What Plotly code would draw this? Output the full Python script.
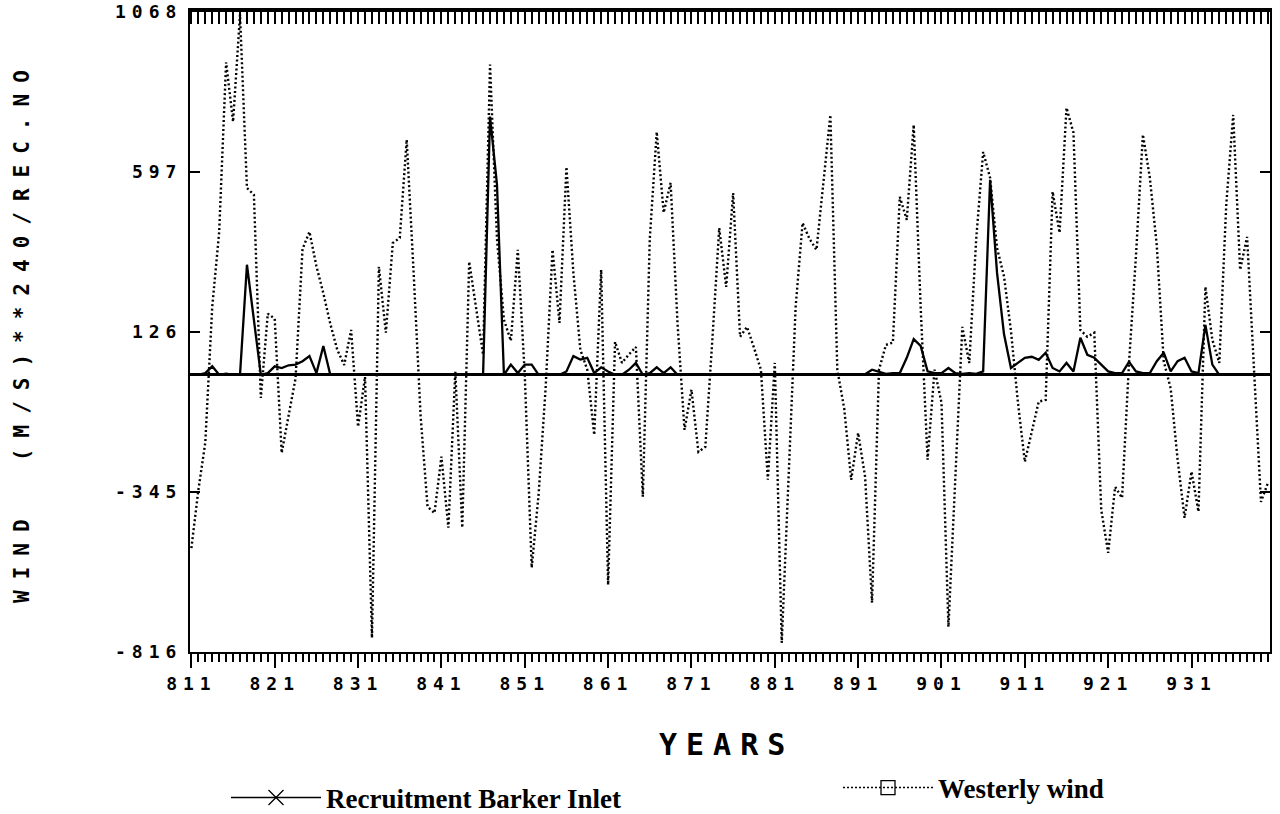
import plotly.graph_objects as go

# Monthly series, Jan 1981 (811) .. Dec 1993
wind = [
    -510, -340, -200, 200, 420, 920, 745, 1060, 550, 530, -68, 180,
    165, -230, -120, -10, 370, 421, 320, 240, 150, 74, 29, 132,
    -153, -6, -774, 318, 124, 388, 403, 692, 300, -120, -388, -407,
    -241, -450, 10, -450, 333, 200, 59, 913, 400, 162, 100, 368,
    0, -568, -350, -40, 368, 153, 612, 300, 74, 15, -177, 309,
    -618, 97, 35, 60, 82, -359, 400, 715, 477, 565, 150, -162,
    -44, -227, -212, 100, 432, 259, 535, 112, 141, 80, 15, -309,
    35, -789, -300, 200, 447, 400, 368, 560, 765, 15, -100, -309,
    -171, -300, -671, 15, 88, 95, 524, 456, 736, 200, -250, 15,
    -82, -742, -300, 141, 35, 400, 656, 580, 373, 290, 130, -80,
    -256, -170, -79, -74, 539, 418, 786, 713, 132, 112, 124, -397,
    -524, -330, -362, 35, 350, 707, 580, 380, 40, -40, -250, -421,
    -285, -403, 259, 103, 35, 500, 765, 309, 406, 15, -374, -318,
]

recruitment = [
    0, 0, 5, 25, 0, 3, 0, 0, 324, 160, 0, 5,
    25, 20, 28, 30, 40, 55, 5, 85, 0, 0, 0, 0,
    0, 0, 0, 0, 0, 0, 0, 0, 0, 0, 0, 0,
    0, 0, 0, 0, 0, 0, 0, 760, 560, 0, 30, 5,
    30, 30, 0, 0, 0, 0, 10, 55, 45, 50, 5, 22,
    10, 0, 0, 15, 35, 0, 5, 22, 5, 22, 0, 0,
    2, 2, 2, 2, 2, 2, 2, 2, 2, 2, 2, 2,
    2, 2, 2, 2, 2, 2, 2, 2, 2, 2, 2, 2,
    2, 2, 15, 10, 3, 5, 5, 50, 105, 85, 10, 5,
    5, 20, 5, 3, 5, 3, 10, 574, 300, 120, 20, 35,
    50, 53, 44, 65, 20, 10, 35, 10, 109, 59, 50, 30,
    10, 5, 5, 38, 10, 5, 5, 40, 65, 10, 40, 50,
    10, 5, 147, 30, 0, 0, 0, 0, 0, 0, 0, 0,
]

x_tick_labels = ["811", "821", "831", "841", "851", "861", "871",
                 "881", "891", "901", "911", "921", "931"]
x_tick_months = [0, 12, 24, 36, 48, 60, 72, 84, 96, 108, 120, 132, 144]
y_tick_values = [-816, -345, 126, 597, 1068]

months = list(range(len(wind)))

W, H = 1280, 814
L, R, T, B = 190, 10, 12, 162
PW, PH = W - L - R, H - T - B


def px_x(px):
    return (px - L) / PW


def px_y(py):
    return (H - B - py) / PH


def spaced(text, ls):
    return f'<span style="letter-spacing:{ls}px">{text}</span>'


MONO = "DejaVu Sans Mono"
XR = [-0.2, 155.3]

fig = go.Figure()
fig.add_trace(go.Scatter(
    x=months, y=wind, mode="lines", name="Westerly wind",
    line=dict(color="black", width=2.4, dash="2px,2.5px"),
    showlegend=False, hoverinfo="skip"))
fig.add_trace(go.Scatter(
    x=months, y=recruitment, mode="lines", name="Recruitment Barker Inlet",
    line=dict(color="black", width=2.3),
    showlegend=False, hoverinfo="skip"))

# legend entries
fig.add_trace(go.Scatter(
    x=[None], y=[None], xaxis="x2", mode="lines+markers",
    name="Recruitment Barker Inlet", legend="legend",
    line=dict(color="black", width=1.5),
    marker=dict(symbol="x-thin", size=15, color="black",
                line=dict(color="black", width=1.3))))
fig.add_trace(go.Scatter(
    x=[None], y=[None], xaxis="x2", mode="lines+markers",
    name="Westerly wind", legend="legend2",
    line=dict(color="black", width=1.6, dash="2px,2px"),
    marker=dict(symbol="square-open", size=14, color="black",
                line=dict(color="black", width=1.3))))

legend_font = dict(family="Liberation Serif", size=27, color="black", weight="bold")

fig.update_layout(
    width=W, height=H,
    margin=dict(l=L, r=R, t=T, b=B, autoexpand=False),
    paper_bgcolor="white", plot_bgcolor="white",
    hovermode=False,
    xaxis=dict(
        range=XR, tickmode="array", tickvals=x_tick_months,
        ticktext=[spaced(t, 6) for t in x_tick_labels],
        ticks="outside", ticklen=14, tickwidth=2, tickcolor="black",
        minor=dict(tickmode="linear", tick0=0, dtick=1, ticks="outside",
                   ticklen=8, tickwidth=1.5, tickcolor="black", showgrid=False),
        showline=True, linecolor="black", linewidth=2, mirror=False,
        showgrid=False, zeroline=False,
        tickfont=dict(family=MONO, size=18, color="black", weight="bold"),
    ),
    xaxis2=dict(
        overlaying="x", side="top", anchor="y", range=XR,
        tickmode="linear", tick0=0, dtick=1, ticks="inside", ticklen=12,
        tickwidth=2, tickcolor="black", showticklabels=False,
        showline=True, linewidth=4, linecolor="black",
        showgrid=False, zeroline=False,
    ),
    yaxis=dict(
        range=[-816, 1068], tickmode="array", tickvals=y_tick_values,
        ticktext=[spaced(str(v), 6) for v in y_tick_values],
        ticks="inside", ticklen=10, tickwidth=2, tickcolor="black",
        showline=True, linewidth=2, linecolor="black", mirror="ticks",
        showgrid=False, zeroline=True, zerolinecolor="black", zerolinewidth=2.5,
        tickfont=dict(family=MONO, size=18, color="black", weight="bold"),
        ticklabelstandoff=2,
    ),
    legend=dict(
        x=px_x(226), y=px_y(798), xanchor="left", yanchor="middle",
        font=legend_font, itemwidth=90, bgcolor="rgba(0,0,0,0)",
        borderwidth=0,
    ),
    legend2=dict(
        x=px_x(838), y=px_y(788), xanchor="left", yanchor="middle",
        font=legend_font, itemwidth=90, bgcolor="rgba(0,0,0,0)",
        borderwidth=0,
    ),
    annotations=[
        dict(text=spaced("YEARS", 9), x=px_x(726), y=px_y(744),
             xref="paper", yref="paper", showarrow=False,
             xanchor="center", yanchor="middle",
             font=dict(family=MONO, size=30, color="black", weight="bold")),
        dict(text=spaced("WIND\u00a0 (M/S)**240/REC.NO", 11),
             x=px_x(22), y=px_y(331), xref="paper", yref="paper",
             showarrow=False, textangle=-90,
             xanchor="center", yanchor="middle",
             font=dict(family=MONO, size=21, color="black", weight="bold")),
    ],
)

fig.write_html("out.html")
